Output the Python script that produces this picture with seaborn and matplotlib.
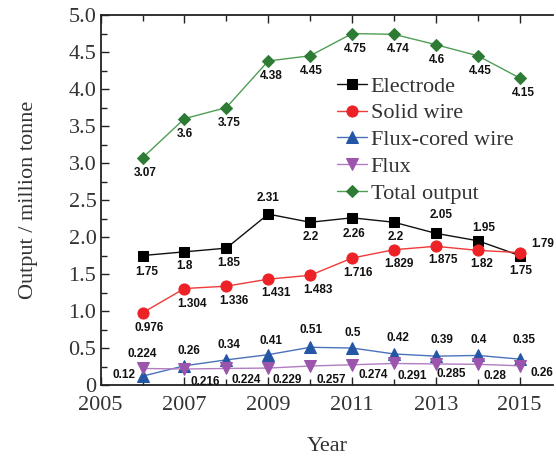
import matplotlib
matplotlib.use('Agg')
import matplotlib.pyplot as plt
from matplotlib.ticker import MultipleLocator
import seaborn as sns
import pandas as pd

# data
years = list(range(2006, 2016))
electrode = [1.75, 1.8, 1.85, 2.31, 2.2, 2.26, 2.2, 2.05, 1.95, 1.75]
solid_wire = [0.976, 1.304, 1.336, 1.431, 1.483, 1.716, 1.829, 1.875, 1.82, 1.79]
flux_cored = [0.12, 0.26, 0.34, 0.41, 0.51, 0.5, 0.42, 0.39, 0.4, 0.35]
flux = [0.224, 0.216, 0.224, 0.229, 0.257, 0.274, 0.291, 0.285, 0.28, 0.26]
total = [3.07, 3.6, 3.75, 4.38, 4.45, 4.75, 4.74, 4.6, 4.45, 4.15]

y_ticks = [0, 0.5, 1.0, 1.5, 2.0, 2.5, 3.0, 3.5, 4.0, 4.5, 5.0]
y_labels = ['0', '0.5', '1.0', '1.5', '2.0', '2.5', '3.0', '3.5', '4.0', '4.5', '5.0']
x_ticks = [2005, 2007, 2009, 2011, 2013, 2015]

# label offsets in pixels (dx, dy downward)
electrode_off = [(4, 16), (0, 14), (2, 15), (0, -16), (1, 15), (2, 16.5), (2, 15), (5, -18), (6, -13), (1, 15)]
solid_off = [(7, 15.5), (8, 15), (8, 15), (8, 14), (8, 15), (6, 15), (5, 14), (7.5, 14), (4, 14), (22.5, -9)]
cored_off = [(-19, -1), (4.5, -15), (3, -15), (3, -14), (1, -17), (1, -15), (4, -16), (6, -16), (1, -15), (4, -19)]
flux_off = [(0, -14), (21, 13), (19.5, 12), (19, 12), (21, 14), (21, 10), (18, 12.5), (15, 10.5), (17.5, 12), (22.5, 7.5)]
total_off = [(3, 15.5), (0, 15), (3, 15), (3, 15), (1, 15), (3, 15), (4, 15), (1, 15.5), (3, 15), (4, 15)]

series = [
    ("Electrode", electrode, 's', 6.5, '#000000', '#111111', electrode_off),
    ("Solid wire", solid_wire, 'o', 8, '#ec2227', '#ee3a3a', solid_off),
    ("Flux-cored wire", flux_cored, '^', 8.5, '#2456a5', '#4a72bb', cored_off),
    ("Flux", flux, 'v', 8.5, '#9c55ad', '#b27cc2', flux_off),
    ("Total output", total, 'D', 6.5, '#2e7b36', '#4f9e55', total_off),
]

sns.set_theme(style='ticks')
plt.rcParams['font.family'] = ['Liberation Serif', 'DejaVu Serif']

fig, ax = plt.subplots(figsize=(5.56, 4.57), dpi=100)
fig.subplots_adjust(left=0.181, right=0.995, bottom=0.1575, top=0.967)

for name, vals, mk, ms, mcol, lcol, offs in series:
    df = pd.DataFrame({'Year': years, 'Output': vals})
    sns.lineplot(data=df, x='Year', y='Output', ax=ax, color=lcol, linewidth=1.0,
                 marker=mk, markersize=ms, markerfacecolor=mcol, markeredgecolor=mcol,
                 label=name)
    for x, v, (dx, dy) in zip(years, vals, offs):
        ax.annotate(f"{v:g}", (x, v), xytext=(dx, -dy), textcoords='offset pixels',
                    ha='center', va='center', fontsize=8.5, fontweight='bold',
                    family=['Liberation Sans', 'DejaVu Sans'], color='#111111')

ax.set_xlim(2005, 2015.8)
ax.set_ylim(0, 5.0)
ax.set_xticks(x_ticks, [str(t) for t in x_ticks])
ax.xaxis.set_minor_locator(MultipleLocator(1))
ax.set_yticks(y_ticks, y_labels)
ax.yaxis.set_minor_locator(MultipleLocator(0.25))

ax.tick_params(which='both', direction='in', top=True, right=False, colors='#222222',
               labelcolor='#333333', labelsize=16)
ax.tick_params(which='major', length=6, width=1)
ax.tick_params(which='minor', length=4, width=1)
ax.tick_params(axis='x', pad=8)
ax.tick_params(axis='y', pad=3)

for side in ['left', 'bottom', 'top']:
    ax.spines[side].set_color('#222222')
    ax.spines[side].set_linewidth(1.3)
ax.spines['right'].set_visible(False)

ax.set_xlabel("Year", fontsize=16, color='#333333', labelpad=16)
ax.set_ylabel("Output / million tonne", fontsize=16, color='#333333', labelpad=22)

ax.legend(loc='upper left', bbox_to_anchor=(0.523, 0.835), frameon=False, fontsize=16,
          handlelength=1.35, handletextpad=0.15, labelspacing=0.28, borderpad=0,
          borderaxespad=0, labelcolor='#333333')

plt.savefig('out.png', dpi=100)
plt.close()
